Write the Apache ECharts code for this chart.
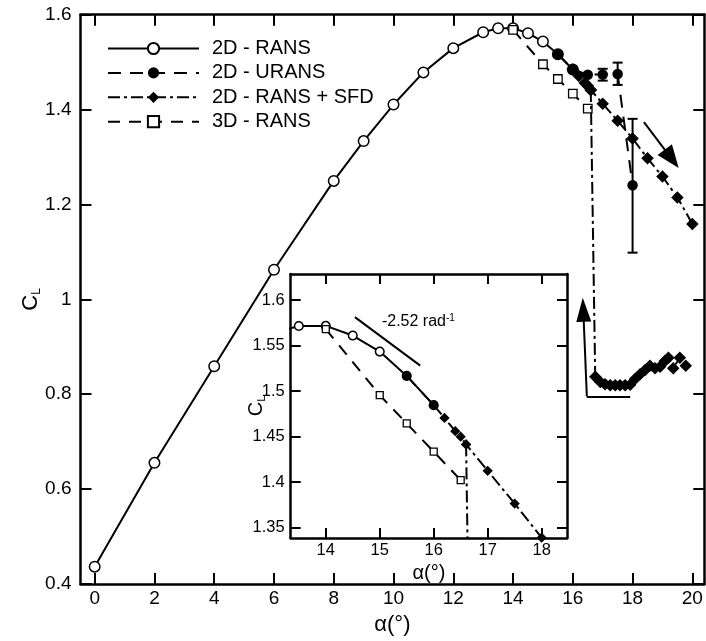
<!DOCTYPE html>
<html>
<head>
<meta charset="utf-8">
<script src="https://cdn.jsdelivr.net/npm/echarts@6/dist/echarts.min.js"></script>
<style>
html, body { margin: 0; padding: 0; background: #fff; }
#chart { width: 706px; height: 641px; }
</style>
</head>
<body>
<div id="chart"></div>
<script>
// ---- Lift coefficient vs angle of attack ----
const ransAlpha = [0, 2, 4, 6, 8, 9, 10, 11, 12, 13, 13.5, 14, 14.5, 15, 15.5, 16];
const ransCL    = [0.4365, 0.6554, 0.8589, 1.0623, 1.2497, 1.3336, 1.4106, 1.4783, 1.5295, 1.563, 1.5715, 1.5716, 1.561, 1.5434, 1.5167, 1.4846];

const uransAlpha = [15.5, 16, 16.5, 17, 17.5, 18];
const uransCL    = [1.5167, 1.4846, 1.4735, 1.474, 1.475, 1.2406];
// URANS fluctuation range (min / max of C_L)
const uransErrAlpha = [17, 17.5, 18];
const uransErrLow   = [1.461, 1.452, 1.0984];
const uransErrHigh  = [1.486, 1.499, 1.3805];

// SFD: attached branch, then the stalled branch after the jump
const sfdAlpha = [16, 16.2, 16.4, 16.5, 16.6, 17, 17.5, 18, 18.5, 19, 19.5, 20];
const sfdCL    = [1.4846, 1.4706, 1.456, 1.45, 1.4415, 1.4125, 1.3765, 1.339, 1.2973, 1.2589, 1.2149, 1.159];
const sfdStallAlpha = [16.6, 16.75, 16.92, 17.08, 17.25, 17.42, 17.58, 17.75, 17.92, 18.08, 18.25, 18.42, 18.58, 18.75, 18.92, 19.08, 19.2, 19.36, 19.58, 19.78];
const sfdStallCL    = [1.4415, 0.837, 0.826, 0.821, 0.819, 0.819, 0.819, 0.819, 0.820, 0.832, 0.842, 0.851, 0.860, 0.855, 0.858, 0.870, 0.877, 0.855, 0.877, 0.860];

const rans3dAlpha = [14, 15, 15.5, 16, 16.5];
const rans3dCL    = [1.568, 1.4956, 1.4645, 1.4335, 1.4022];

// URANS points shown in the zoomed panel
const insetUransCount = 2;

// Tick values
const mainXTicks = [0, 2, 4, 6, 8, 10, 12, 14, 16, 18, 20];
const mainYTicks = [0.4, 0.6, 0.8, 1, 1.2, 1.4, 1.6];
const insetXTicks = [14, 15, 16, 17, 18];
const insetYTicks = [1.35, 1.4, 1.45, 1.5, 1.55, 1.6];

// Reference slope in the zoomed panel (per radian)
const slopePerRad = -2.52;
const slopeStart = [14.54, 1.5812];
const slopeEndAlpha = 15.75;
const slopeLabelPos = [15.04, 1.576];

// Hysteresis arrows (data coordinates)
const arrowDescend = [[18.38, 1.3734], [19.31, 1.2963]];
const arrowLoopCorner = [16.47, 0.7953];
const arrowLoopEnd = [17.92, 0.795];
const arrowLoopHead = [16.35, 0.978];

const zip = (a, b) => a.map((v, i) => [v, b[i]]);
const FONT = "'Liberation Sans', Arial, Helvetica, sans-serif";
const BLACK = '#000';

const chart = echarts.init(document.getElementById('chart'), null, { renderer: 'canvas' });

function frameAxis(base) {
  return Object.assign({
    type: 'value',
    axisLine: { show: true, onZero: false, lineStyle: { color: BLACK, width: 2.5 } },
    splitLine: { show: false },
    nameMoveOverlap: false
  }, base);
}

const mainTickStyle = { inside: true, length: 11, lineStyle: { color: BLACK, width: 2 } };
const insetTickStyle = { inside: true, length: 10, lineStyle: { color: BLACK, width: 2 } };
const mainLabel = { color: BLACK, fontSize: 19, fontFamily: FONT };
const insetLabel = { color: BLACK, fontSize: 16.5, fontFamily: FONT };

const xAxes = [
  frameAxis({ gridIndex: 0, position: 'bottom', min: -0.475, max: 20.4,
    axisTick: Object.assign({ customValues: mainXTicks }, mainTickStyle),
    axisLabel: Object.assign({ customValues: mainXTicks, margin: 5 }, mainLabel),
    name: 'α(°)', nameLocation: 'middle', nameGap: 30,
    nameTextStyle: { color: BLACK, fontSize: 22, fontFamily: FONT } }),
  frameAxis({ gridIndex: 0, position: 'top', min: -0.475, max: 20.4,
    axisTick: Object.assign({ customValues: mainXTicks }, mainTickStyle),
    axisLabel: { show: false } }),
  frameAxis({ gridIndex: 1, position: 'bottom', min: 13.35, max: 18.47,
    axisTick: Object.assign({ customValues: insetXTicks }, insetTickStyle),
    axisLabel: Object.assign({ customValues: insetXTicks, margin: 4 }, insetLabel),
    name: 'α(°)', nameLocation: 'middle', nameGap: 25,
    nameTextStyle: { color: BLACK, fontSize: 20, fontFamily: FONT } }),
  frameAxis({ gridIndex: 1, position: 'top', min: 13.35, max: 18.47,
    axisTick: Object.assign({ customValues: insetXTicks }, insetTickStyle),
    axisLabel: { show: false } })
];

const clRich = (big, small) => ({
  c: { fontSize: big, fontFamily: FONT, color: BLACK, lineHeight: big + 2 },
  l: { fontSize: small, fontFamily: FONT, color: BLACK, lineHeight: small, verticalAlign: 'bottom', padding: [Math.round(big * 0.6), 0, 0, 0] }
});

const yAxes = [
  frameAxis({ gridIndex: 0, position: 'left', min: 0.4, max: 1.6,
    axisTick: Object.assign({ customValues: mainYTicks }, mainTickStyle),
    axisLabel: Object.assign({ customValues: mainYTicks, margin: 9 }, mainLabel),
    name: '{c|C}{l|L}', nameLocation: 'middle', nameGap: 38, nameRotate: 90,
    nameTextStyle: { rich: clRich(22, 12) } }),
  frameAxis({ gridIndex: 0, position: 'right', min: 0.4, max: 1.6,
    axisTick: Object.assign({ customValues: mainYTicks }, mainTickStyle),
    axisLabel: { show: false } }),
  frameAxis({ gridIndex: 1, position: 'left', min: 1.3387, max: 1.6286,
    axisTick: Object.assign({ customValues: insetYTicks }, insetTickStyle),
    axisLabel: Object.assign({ customValues: insetYTicks, margin: 6 }, insetLabel),
    name: '{c|C}{l|L}', nameLocation: 'middle', nameGap: 23, nameRotate: 90,
    nameTextStyle: { rich: clRich(20, 11) } }),
  frameAxis({ gridIndex: 1, position: 'right', min: 1.3387, max: 1.6286,
    axisTick: Object.assign({ customValues: insetYTicks }, insetTickStyle),
    axisLabel: { show: false } })
];

function lineSeries(name, data, grid, opts) {
  return Object.assign({
    type: 'line', name, data,
    xAxisIndex: grid === 0 ? 0 : 2, yAxisIndex: grid === 0 ? 0 : 2,
    showSymbol: true, showAllSymbol: true, clip: true, silent: true,
    lineStyle: { color: BLACK, width: 2 },
    itemStyle: { color: BLACK, borderColor: BLACK, borderWidth: 1 },
    emphasis: { disabled: true }
  }, opts);
}

function seriesForGrid(g) {
  const k = g === 0 ? 1 : 0.82;
  const ransStyle = { symbol: 'circle', symbolSize: 10.5 * k, z: 3,
    itemStyle: { color: '#fff', borderColor: BLACK, borderWidth: 1.5 },
    lineStyle: { color: BLACK, width: 2, type: 'solid' } };
  const rans3dStyle = { symbol: 'rect', symbolSize: 8.5 * k, z: 4,
    itemStyle: { color: '#fff', borderColor: BLACK, borderWidth: 1.3 },
    lineStyle: { color: BLACK, width: 2, type: [12, 9] } };
  const uransStyle = { symbol: 'circle', symbolSize: 10.5 * k, z: 5,
    itemStyle: { color: BLACK },
    lineStyle: { color: BLACK, width: 2, type: [13, 9] } };
  const sfdStyle = { symbol: 'diamond', symbolSize: 12.5 * k, z: 6,
    itemStyle: { color: BLACK },
    lineStyle: { color: BLACK, width: 2, type: [12, 4, 3, 4] } };

  const uA = g === 0 ? uransAlpha : uransAlpha.slice(0, insetUransCount);
  const uC = g === 0 ? uransCL : uransCL.slice(0, insetUransCount);

  return [
    lineSeries('2D - RANS', zip(ransAlpha, ransCL), g, ransStyle),
    lineSeries('3D - RANS', zip(rans3dAlpha, rans3dCL), g, rans3dStyle),
    lineSeries('2D - URANS', zip(uA, uC), g, uransStyle),
    lineSeries('2D - RANS + SFD', zip(sfdAlpha, sfdCL), g, sfdStyle),
    lineSeries('2D - RANS + SFD', zip(sfdStallAlpha, sfdStallCL), g, sfdStyle)
  ];
}

const mainSeries = seriesForGrid(0);
// hysteresis arrows attached to the attached-branch SFD series
mainSeries[3].markLine = {
  silent: true, animation: false,
  symbol: ['none', 'triangle'], symbolSize: [15, 20],
  label: { show: false },
  lineStyle: { color: BLACK, width: 2, type: 'solid' },
  emphasis: { disabled: true },
  data: [
    [{ coord: arrowDescend[0] }, { coord: arrowDescend[1], symbol: 'triangle', symbolSize: [18, 23] }],
    [{ coord: arrowLoopCorner, symbol: 'none' }, { coord: arrowLoopEnd, symbol: 'none' }],
    [{ coord: arrowLoopCorner, symbol: 'none' }, { coord: arrowLoopHead, symbol: 'triangle', symbolSize: [15, 24] }]
  ]
};

const errorBars = {
  type: 'custom', name: 'URANS range', xAxisIndex: 0, yAxisIndex: 0, z: 5, silent: true,
  data: uransErrAlpha.map((a, i) => [a, uransErrLow[i], uransErrHigh[i]]),
  encode: { x: 0, y: [1, 2] },
  renderItem: function (params, api) {
    const a = api.value(0);
    const lo = api.coord([a, api.value(1)]);
    const hi = api.coord([a, api.value(2)]);
    const cap = 5;
    const st = { stroke: BLACK, lineWidth: 2 };
    return { type: 'group', children: [
      { type: 'line', shape: { x1: lo[0], y1: lo[1], x2: hi[0], y2: hi[1] }, style: st },
      { type: 'line', shape: { x1: lo[0] - cap, y1: lo[1], x2: lo[0] + cap, y2: lo[1] }, style: st },
      { type: 'line', shape: { x1: hi[0] - cap, y1: hi[1], x2: hi[0] + cap, y2: hi[1] }, style: st }
    ] };
  }
};

const slopeEndCL = slopeStart[1] + slopePerRad * (slopeEndAlpha - slopeStart[0]) * Math.PI / 180;
const slopeSeries = {
  type: 'line', name: 'slope', xAxisIndex: 2, yAxisIndex: 2, silent: true, symbol: 'none',
  data: [slopeStart, [slopeEndAlpha, slopeEndCL]],
  lineStyle: { color: BLACK, width: 2 }, z: 7
};

const option = {
  animation: false,
  backgroundColor: '#fff',
  textStyle: { fontFamily: FONT },
  grid: [
    { left: 80.5, top: 14.7, right: 1.7, bottom: 54.3 },
    { left: 290.7, top: 274, width: 276.3, height: 264, show: true, backgroundColor: '#fff', borderWidth: 0 }
  ],
  legend: {
    data: ['2D - RANS', '2D - URANS', '2D - RANS + SFD', '3D - RANS'],
    orient: 'vertical', left: 102, top: 33.5,
    itemWidth: 91, itemHeight: 14, itemGap: 4.4,
    selectedMode: false,
    textStyle: { color: BLACK, fontSize: 20, fontFamily: FONT, lineHeight: 20, padding: [0, 0, 0, 8] }
  },
  xAxis: xAxes,
  yAxis: yAxes,
  series: mainSeries.concat([errorBars]).concat(seriesForGrid(1)).concat([slopeSeries])
};

chart.setOption(option);

// slope annotation text placed in the zoomed panel's coordinates
const lp = chart.convertToPixel({ xAxisIndex: 2, yAxisIndex: 2 }, slopeLabelPos);
chart.setOption({
  graphic: [{
    type: 'text', x: lp[0], y: lp[1], z: 10, silent: true,
    style: {
      text: '{a|-2.52 rad}{b|-1}',
      verticalAlign: 'middle',
      rich: {
        a: { fontSize: 16, fontFamily: FONT, fill: BLACK, lineHeight: 18 },
        b: { fontSize: 10, fontFamily: FONT, fill: BLACK, lineHeight: 10, verticalAlign: 'top' }
      }
    }
  }]
});
</script>
</body>
</html>
